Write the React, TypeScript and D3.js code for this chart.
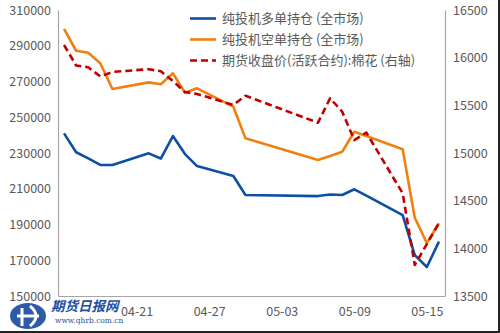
import React, { useEffect, useRef } from "react";
import * as d3 from "d3";

// trading days (2019)
const dates = [
  "04-15", "04-16", "04-17", "04-18", "04-19",
  "04-22", "04-23", "04-24", "04-25", "04-26",
  "04-29", "04-30",
  "05-06", "05-07", "05-08", "05-09", "05-10",
  "05-13", "05-14", "05-15", "05-16",
];

// 纯投机多单持仓 (全市场)
const longPos = [
  241000, 230400, 227000, 223300, 223300,
  229800, 226900, 239500, 229400, 222700,
  217100, 206500,
  205900, 206800, 206500, 209700, 206100,
  195300, 172900, 166200, 180400,
];

// 纯投机空单持仓 (全市场)
const shortPos = [
  299400, 287200, 286100, 280200, 265800,
  269500, 268500, 274600, 263700, 266200,
  255900, 238200,
  226100, 228300, 230700, 241900, 239500,
  232100, 193800, 179600, 190700,
];

// 期货收盘价(活跃合约):棉花 (右轴)
const cottonClose = [
  16133, 15918, 15899, 15803, 15850,
  15879, 15858, 15755, 15640, 15619,
  15504, 15601,
  15318, 15574, 15433, 15136, 15213,
  14577, 13825, 14045, 14266,
];

// 04-15 sits under the watermark in the original, so only these show
const xTicks = ["04-21", "04-27", "05-03", "05-09", "05-15"];
const leftTicks = [150000, 170000, 190000, 210000, 230000, 250000, 270000, 290000, 310000];
const rightTicks = [13500, 14000, 14500, 15000, 15500, 16000, 16500];

const legendNames = [
  "纯投机多单持仓 (全市场)",
  "纯投机空单持仓 (全市场)",
  "期货收盘价(活跃合约):棉花 (右轴)",
];

const W = 500;
const H = 333;

export default function App() {
  const ref = useRef<SVGSVGElement>(null);

  useEffect(() => {
    const svg = d3.select(ref.current);
    svg.selectAll("*").remove();

    const parse = d3.timeParse("%Y-%m-%d");
    const day = 86400000;
    const dt = dates.map(d => parse("2019-" + d) as Date);
    const first = dt[0].getTime();
    const last = dt[dt.length - 1].getTime();

    const left = 58, right = 445, top = 10, bottom = 296;

    const x = d3.scaleTime()
      .domain([new Date(first - day / 2), new Date(last + day / 2)])
      .range([left, right]);
    const yL = d3.scaleLinear().domain([150000, 310000]).range([bottom, top]);
    const yR = d3.scaleLinear().domain([13500, 16500]).range([bottom, top]);

    svg.append("rect").attr("width", W).attr("height", H).attr("fill", "#fff");

    const font = "'Noto Sans CJK SC', 'Noto Sans', sans-serif";
    const textColor = "#595959";

    // axes
    const axL = svg.append("g")
      .attr("transform", `translate(${left},0)`)
      .call(d3.axisLeft(yL).tickValues(leftTicks).tickSize(0).tickPadding(7).tickFormat(d3.format("d")));
    const axR = svg.append("g")
      .attr("transform", `translate(${right},0)`)
      .call(d3.axisRight(yR).tickValues(rightTicks).tickSize(0).tickPadding(8).tickFormat(d3.format("d")));
    const axB = svg.append("g")
      .attr("transform", `translate(0,${bottom})`)
      .call(d3.axisBottom(x)
        .tickValues(xTicks.map(d => parse("2019-" + d) as Date))
        .tickSize(0).tickPadding(11)
        .tickFormat(d3.timeFormat("%m-%d") as any));

    [axL, axR, axB].forEach(a => {
      a.select(".domain").attr("stroke", "#a6a6a6").attr("stroke-width", 1.2);
      a.selectAll("text")
        .attr("fill", textColor)
        .style("font-family", font)
        .style("font-size", "12.5px");
    });

    // series
    const series = [
      { values: longPos, y: yL, color: "#0d4fa3", dash: null },
      { values: shortPos, y: yL, color: "#f0800f", dash: null },
      { values: cottonClose, y: yR, color: "#c00000", dash: "7,4" },
    ];

    series.forEach(s => {
      const line = d3.line<number>()
        .x((_, i) => x(dt[i]))
        .y(v => s.y(v));
      svg.append("path")
        .attr("d", line(s.values))
        .attr("fill", "none")
        .attr("stroke", s.color)
        .attr("stroke-width", 2.6)
        .attr("stroke-linejoin", "round")
        .attr("stroke-dasharray", s.dash);
    });

    // legend
    const lg = svg.append("g");
    series.forEach((s, i) => {
      const ly = 18.5 + i * 21;
      lg.append("line")
        .attr("x1", 190).attr("x2", 216).attr("y1", ly).attr("y2", ly)
        .attr("stroke", s.color).attr("stroke-width", 2.6)
        .attr("stroke-dasharray", s.dash);
      lg.append("text")
        .attr("x", 222).attr("y", ly)
        .attr("dy", "0.35em")
        .attr("fill", textColor)
        .style("font-family", font)
        .style("font-size", "13px")
        .text(legendNames[i]);
    });

    // image frame
    svg.append("line").attr("x1", 0).attr("x2", W).attr("y1", H - 1).attr("y2", H - 1)
      .attr("stroke", "#222").attr("stroke-width", 2);
    svg.append("line").attr("x1", W - 1).attr("x2", W - 1).attr("y1", 0).attr("y2", H)
      .attr("stroke", "#222").attr("stroke-width", 2);

    // watermark logo
    const logo = svg.append("g");
    logo.append("rect").attr("x", 0).attr("y", 301).attr("width", 119).attr("height", 30).attr("fill", "#fff");
    logo.append("ellipse").attr("cx", 28).attr("cy", 316).attr("rx", 18).attr("ry", 13).attr("fill", "#2d5ba8");
    logo.append("path")
      .attr("d", "M17,316 L39,316 M22,308 L22,326 M30,306 Q42,316 30,326")
      .attr("stroke", "#fff").attr("stroke-width", 3).attr("fill", "none");
    logo.append("text")
      .attr("x", 51).attr("y", 311)
      .attr("fill", "#1f4fa0")
      .style("font-family", "'Noto Sans CJK SC', sans-serif")
      .style("font-size", "13.5px").style("font-weight", "bold").style("font-style", "italic")
      .text("期货日报网");
    logo.append("text")
      .attr("x", 55).attr("y", 323)
      .attr("fill", "#1f4fa0")
      .style("font-family", "'DejaVu Serif', serif")
      .style("font-size", "7.5px")
      .text("www.qhrb.com.cn");
  }, []);

  return (
    <svg
      ref={ref}
      width={W}
      height={H}
      style={{ position: "absolute", left: 0, top: 0, display: "block" }}
    />
  );
}
